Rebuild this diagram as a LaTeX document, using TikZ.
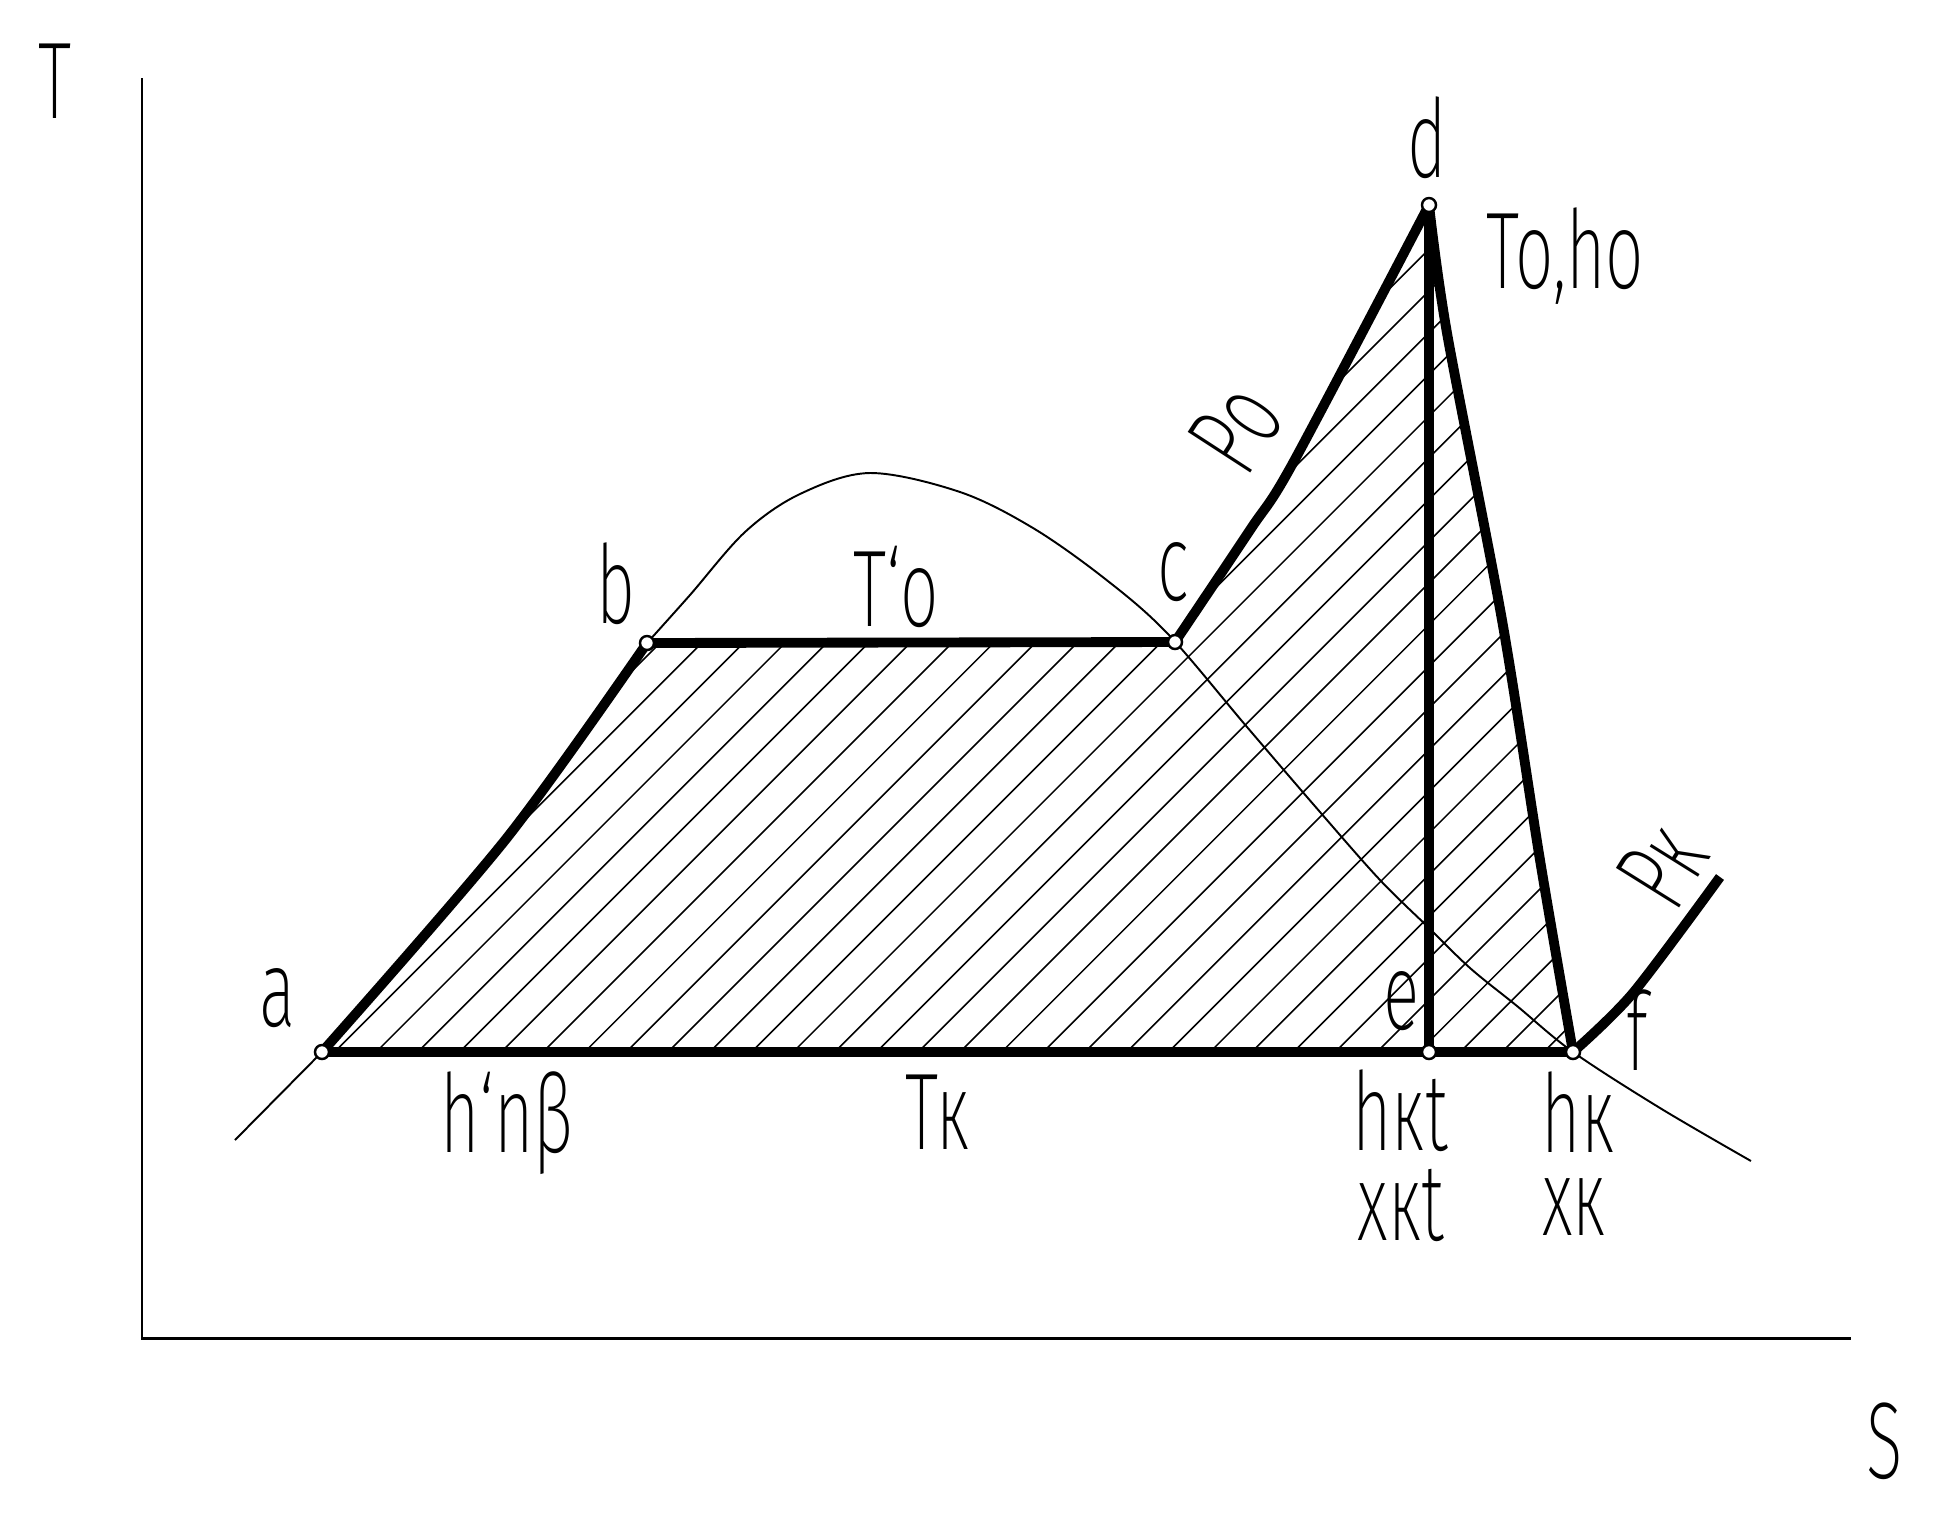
\documentclass[tikz,border=0pt]{standalone}
\usepackage{fontspec}
\newfontfamily\cad[FakeStretch=0.62]{Fira Sans ExtraLight}
\begin{document}
\begin{tikzpicture}[x=0.01cm,y=-0.01cm,
  lbl/.style={font=\cad\fontsize{31}{31}\selectfont, inner sep=0pt, anchor=base},
  heavy/.style={line width=2.8pt, line join=round},
  fine/.style={line width=0.55pt},
  axisline/.style={line width=0.85pt},
  hatch/.style={line width=0.45pt},
  pointmark/.style={line width=0.7pt, fill=white}]
\useasboundingbox (0,0) rectangle (1935,1517);
\fill[white] (0,0) rectangle (1935,1517);
% key points
\coordinate (a) at (322,1052);
\coordinate (b) at (647,643);
\coordinate (c) at (1175,642);
\coordinate (d) at (1429,205);
\coordinate (e) at (1429,1052);
\coordinate (f) at (1573,1052);
\coordinate (g) at (1720,877);
\coordinate (o) at (142,1338);
\coordinate (ty) at (142,78);
\coordinate (sx) at (1851,1338);
\coordinate (s0) at (235,1140);
\coordinate (s1) at (1751,1161);
% hatching
\begin{scope}
\clip plot[smooth] coordinates {(a) (506,839) (b)} -- (c)
  -- plot[smooth] coordinates {(c) (1250,530) (1293,463) (d)}
  -- plot[smooth] coordinates {(d) (1447,333) (1502,620) (1540,860) (f)} -- cycle;
\foreach \k in {-3,...,33}{
  \draw[hatch] ({1344.7+41.7*\k-1150},1150) -- ({1344.7+41.7*\k-150},150);
}
\end{scope}
% axes
\draw[axisline] (ty) -- (o) -- (sx);
% saturation curve
\draw[fine] (s0) -- (a);
\draw[fine] plot[smooth] coordinates {(a) (506,839) (b)};
\draw[fine] plot[smooth, tension=0.55] coordinates {(b) (690,595) (745,532) (800,494) (870,473) (960,492) (1033,528) (1104,578) (1167,633) (1247,727) (1320,812) (1380,880) (1429,928) (1470,968) (1517,1006) (f) (1660,1108) (s1)};
% cycle
\draw[heavy] plot[smooth] coordinates {(a) (506,839) (b)};
\draw[heavy] (b) -- (c);
\draw[heavy] plot[smooth] coordinates {(c) (1250,530) (1293,463) (d)};
\draw[heavy] plot[smooth] coordinates {(d) (1447,333) (1502,620) (1540,860) (f)};
\draw[heavy] (d) -- (e);
\draw[heavy] (a) -- (f);
\draw[heavy] plot[smooth] coordinates {(f) (1633,993) (g)};
\foreach \p in {a,b,c,d,e,f}{\draw[pointmark] (\p) circle[radius=7];}
% labels
\node[lbl] (lT) at (55,118) {T};
\node[lbl] (lS) at (1885,1478) {S};
\node[lbl] (la) at (278,1026) {a};
\node[lbl] (lb) at (616,623) {b};
\node[lbl] (lc) at (1173,600) {c};
\node[lbl] (ld) at (1427,177) {d};
\node[lbl] (le) at (1402,1029) {e};
\node[lbl] (lf) at (1637,1070) {f};
\node[lbl] (lTo) at (896,626) {T‘o};
\node[lbl] (lToho) at (1565,288) {To,ho};
\node[lbl] (lhnb) at (507,1152) {h‘nβ};
\node[lbl] (lTk) at (938,1149) {Tк};
\node[lbl] (lhkt) at (1400,1150) {hкt};
\node[lbl] (lxkt) at (1401,1240) {xкt};
\node[lbl] (lhk) at (1578,1152) {hк};
\node[lbl] (lxk) at (1574,1235) {xк};
\node[lbl, anchor=base west, rotate=57] (lPo) at (1246,480) {Po};
\node[lbl, anchor=base west, rotate=58] (lPk) at (1675,915) {Pк};
\end{tikzpicture}
\end{document}
